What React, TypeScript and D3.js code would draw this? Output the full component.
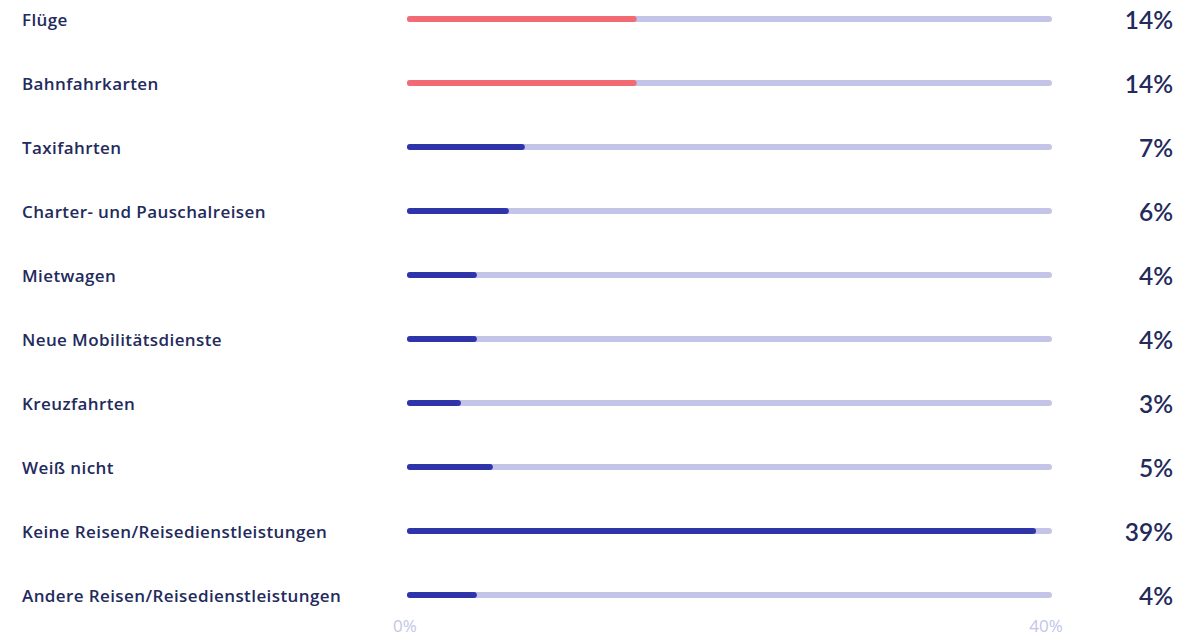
import React from "react";
import * as d3 from "d3";

const categories = [
  "Flüge",
  "Bahnfahrkarten",
  "Taxifahrten",
  "Charter- und Pauschalreisen",
  "Mietwagen",
  "Neue Mobilitätsdienste",
  "Kreuzfahrten",
  "Weiß nicht",
  "Keine Reisen/Reisedienstleistungen",
  "Andere Reisen/Reisedienstleistungen",
];
const values = [14, 14, 7, 6, 4, 4, 3, 5, 39, 4];
const highlighted = [true, true, false, false, false, false, false, false, false, false];
const axisTicks = [0, 40];

const W = 1195;
const H = 636;

export default function App() {
  const x = d3.scaleLinear().domain([0, 40]).range([410, 1049]);
  const y = d3
    .scalePoint<string>()
    .domain(categories)
    .range([19, 595]);

  const textColor = "#232a5c";
  const trackColor = "#c3c4e7";
  const barColor = "#2f35a9";
  const hiColor = "#f26a73";
  const labelFont = "'Open Sans', Lato, sans-serif";
  const valueFont = "Lato, 'Open Sans', sans-serif";

  return (
    <svg
      width={W}
      height={H}
      style={{ position: "absolute", left: 0, top: 0, background: "#fff" }}
    >
      {categories.map((c, i) => {
        const cy = y(c)!;
        return (
          <g key={c}>
            <text
              x={22}
              y={cy + 1}
              dy="0.36em"
              fontFamily={labelFont}
              fontSize={17}
              fontWeight={600}
              letterSpacing={0.4}
              fill={textColor}
            >
              {c}
            </text>
            <line
              x1={x(0)}
              x2={x(40)}
              y1={cy}
              y2={cy}
              stroke={trackColor}
              strokeWidth={6}
              strokeLinecap="round"
            />
            <line
              x1={x(0)}
              x2={x(values[i])}
              y1={cy}
              y2={cy}
              stroke={highlighted[i] ? hiColor : barColor}
              strokeWidth={6}
              strokeLinecap="round"
            />
            <text
              x={1173}
              y={cy + 1}
              dy="0.36em"
              textAnchor="end"
              fontFamily={valueFont}
              fontSize={24.5}
              fontWeight={600}
              fill={textColor}
            >
              {values[i]}%
            </text>
          </g>
        );
      })}
      {axisTicks.map((t) => (
        <text
          key={t}
          x={x(t) - (t === 0 ? 5 : 3)}
          y={626}
          dy="0.36em"
          textAnchor="middle"
          fontFamily={labelFont}
          fontSize={17}
          fill="#c3c4e8"
        >
          {t}%
        </text>
      ))}
    </svg>
  );
}
